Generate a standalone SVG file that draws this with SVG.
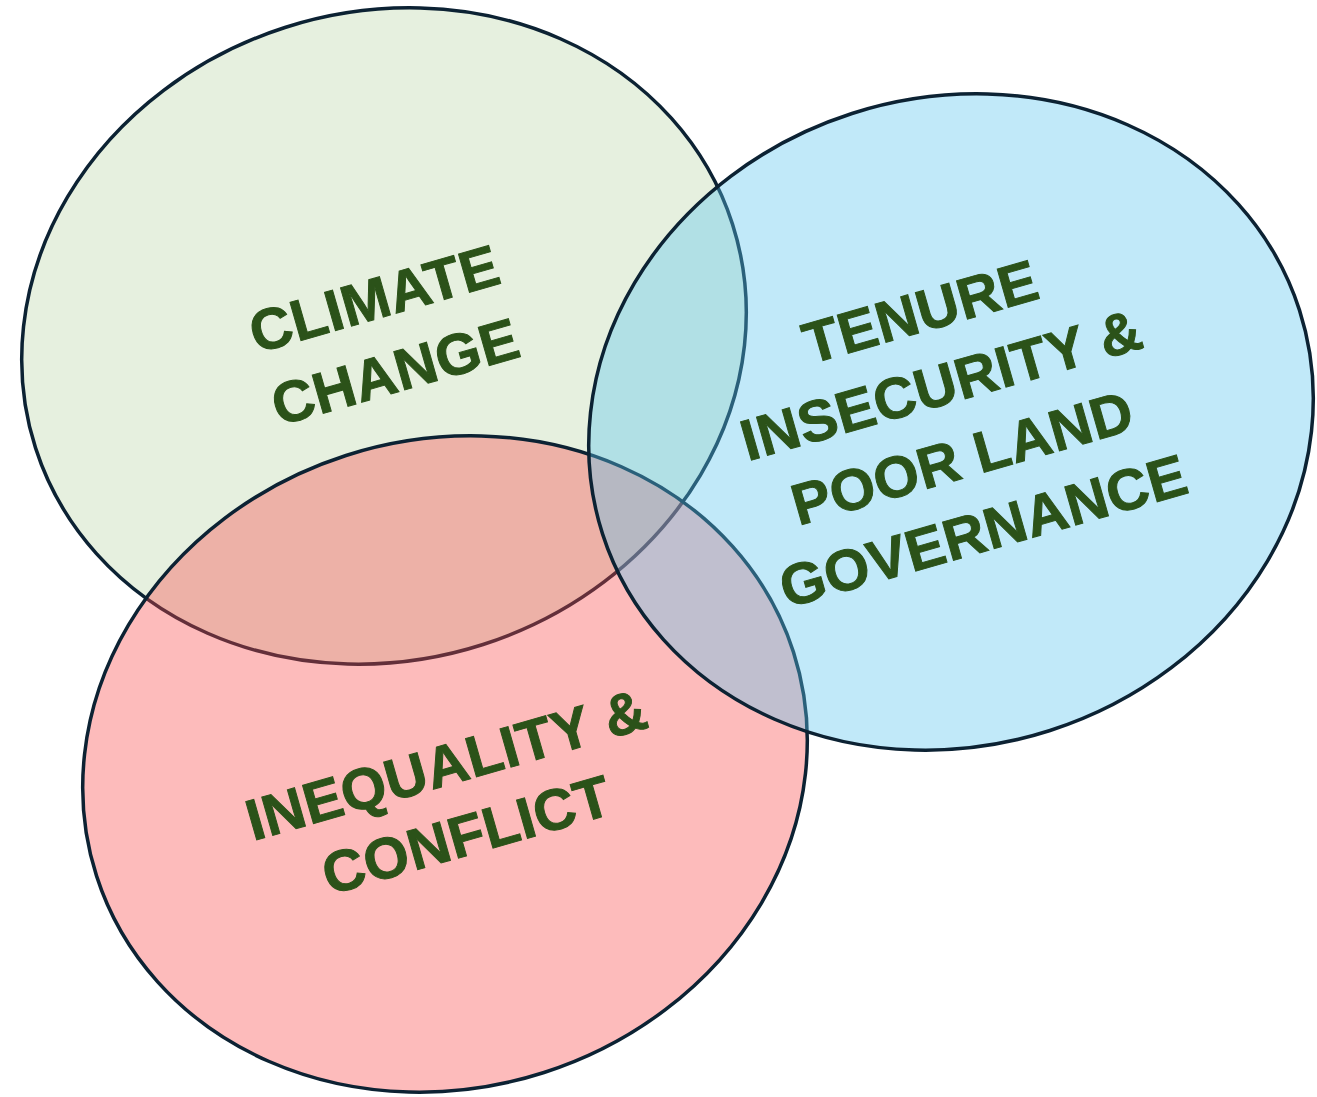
<svg xmlns="http://www.w3.org/2000/svg" width="1317" height="1097" viewBox="0 0 1317 1097">
<style>
.e{stroke:#0C2233;stroke-width:3.5}
.lbl{font-family:"Liberation Sans",Arial,sans-serif;font-weight:bold;font-size:58px;letter-spacing:0.5px;fill:#2B5219;stroke:#2B5219;stroke-width:1;text-anchor:middle}
</style>
<rect width="1317" height="1097" fill="#FFFFFF"/>
<g id="climate">
<ellipse class="e" cx="384" cy="336" rx="366" ry="324" transform="rotate(-17.8 384 336)" fill="#E6F0DF"/>
</g>
<g id="inequality">
<ellipse class="e" cx="445" cy="764" rx="366" ry="324" transform="rotate(-17.8 445 764)" fill="#FA4747" fill-opacity="0.37"/>
</g>
<g id="tenure">
<ellipse class="e" cx="951" cy="422" rx="366" ry="324" transform="rotate(-17.8 951 422)" fill="#5CC5EF" fill-opacity="0.38"/>
</g>
<g id="labels">
<g transform="translate(380,318) rotate(-16)">
<text class="lbl" x="0" y="0">CLIMATE</text>
<text class="lbl" x="0" y="76">CHANGE</text>
</g>
<g transform="translate(926,331) rotate(-16)">
<text class="lbl" x="0" y="0">TENURE</text>
<text class="lbl" x="0" y="76">INSECURITY &amp;</text>
<text class="lbl" x="0" y="152">POOR LAND</text>
<text class="lbl" x="0" y="228">GOVERNANCE</text>
</g>
<g transform="translate(452,784) rotate(-16)">
<text class="lbl" x="0" y="0">INEQUALITY &amp;</text>
<text class="lbl" x="0" y="73">CONFLICT</text>
</g>
</g>
</svg>
